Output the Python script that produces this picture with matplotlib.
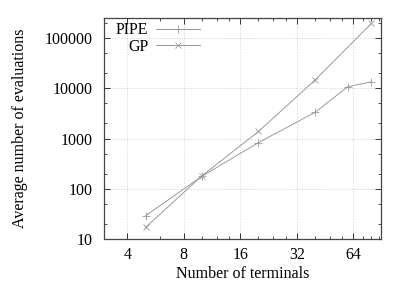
import matplotlib
matplotlib.use("Agg")
import matplotlib.pyplot as plt
from matplotlib.ticker import FixedLocator, NullFormatter, LogLocator

plt.rcParams['font.family'] = ['Liberation Serif', 'DejaVu Serif']
plt.rcParams['font.size'] = 11.5

pipe_x = [5, 10, 20, 40, 60, 80]
pipe_y = [29, 178, 830, 3300, 10800, 13400]
gp_x = [5, 10, 20, 40, 80]
gp_y = [17, 182, 1380, 14500, 195000]

xticks = [4, 8, 16, 32, 64]
xminor = [6, 10, 12, 14, 20, 24, 28, 40, 48, 56, 72, 80, 88]
yticks = [10, 100, 1000, 10000, 100000]

fig = plt.figure(figsize=(4.07, 2.85), dpi=100)
ax = fig.add_axes([0.2555, 0.1614, 0.6806, 0.7754])

gray = '#9a9a9a'
ax.plot(pipe_x, pipe_y, color=gray, lw=0.7, marker='+', ms=6, mew=0.6, label='PIPE')
ax.plot(gp_x, gp_y, color=gray, lw=0.7, marker='x', ms=5, mew=0.6, label='GP')

ax.set_xscale('log', base=2)
ax.set_yscale('log')
ax.set_xlim(3, 90)
ax.set_ylim(10, 250000)

ax.xaxis.set_major_locator(FixedLocator(xticks))
ax.xaxis.set_major_formatter(plt.FuncFormatter(lambda v, p: '%d' % v))
ax.xaxis.set_minor_locator(FixedLocator(xminor))
ax.xaxis.set_minor_formatter(NullFormatter())
ax.yaxis.set_major_locator(FixedLocator(yticks))
ax.yaxis.set_major_formatter(plt.FuncFormatter(lambda v, p: '%d' % v))
ax.yaxis.set_minor_locator(LogLocator(base=10, subs=[2, 5]))
ax.yaxis.set_minor_formatter(NullFormatter())

ax.tick_params(which='both', direction='in', top=True, right=True, color='#333333')
ax.tick_params(axis='y', which='major', length=4, width=0.7, pad=8)
ax.tick_params(axis='x', which='major', length=4, width=0.7, pad=6)
ax.tick_params(which='minor', length=2.5, width=0.6)
for s in ax.spines.values():
    s.set_color('#444444')
    s.set_linewidth(0.9)

ax.grid(True, which='major', color='#cccccc', lw=0.5, ls=(0, (2, 2)))

ax.set_xlabel('Number of terminals', labelpad=2)
ax.set_ylabel('Average number of evaluations', labelpad=12)

ax.legend(loc='upper left', frameon=False, markerfirst=False, handlelength=2.7,
          borderaxespad=0.0, labelspacing=0.05, handletextpad=0.5,
          bbox_to_anchor=(0.02, 1.01))

fig.savefig('out.png', dpi=100)
